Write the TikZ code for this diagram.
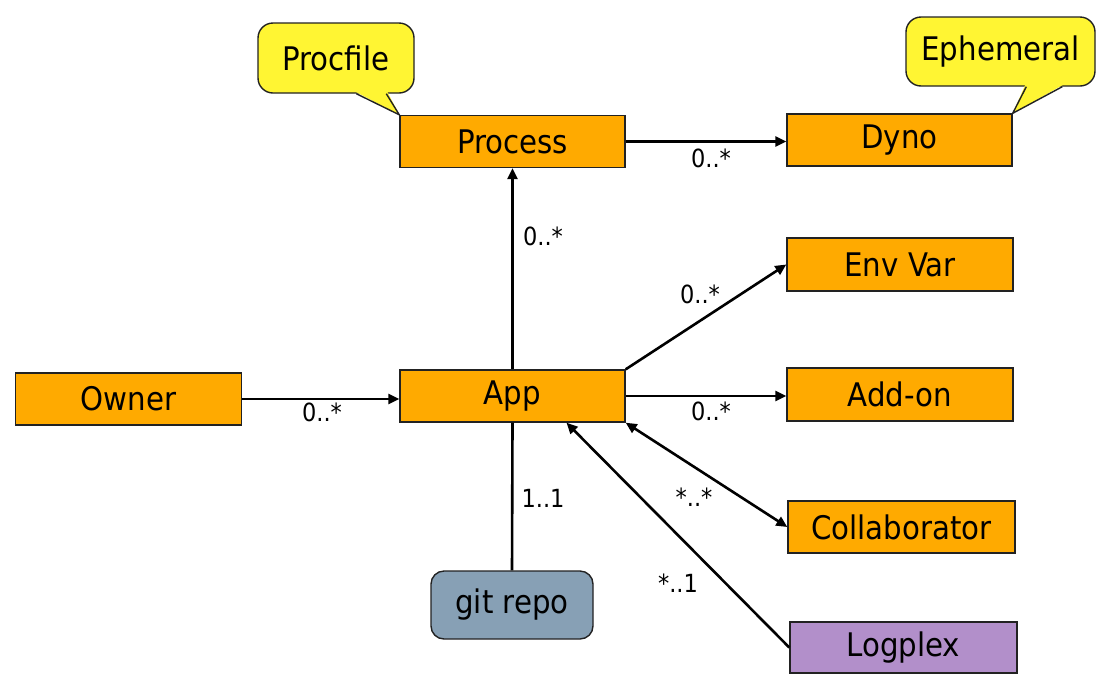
\documentclass[tikz,border=0pt]{standalone}
\usepackage{fontspec}
\setmainfont{DejaVu Sans Condensed}
\usetikzlibrary{arrows.meta,calc}
\definecolor{boxorange}{HTML}{FFAA00}
\definecolor{calloutyellow}{HTML}{FFF533}
\definecolor{gitblue}{HTML}{87A0B5}
\definecolor{logpurple}{HTML}{B28FCA}
\definecolor{edgegray}{HTML}{222222}
\tikzset{
  cls/.style={draw=edgegray, line width=1.4pt, fill=boxorange, minimum width=225pt, minimum height=52pt, inner sep=0pt, font=\fontsize{32.5}{36}\selectfont},
  callout/.style={draw=edgegray, line width=1.4pt, fill=calloutyellow, rounded corners=15pt, inner sep=0pt, font=\fontsize{32.5}{36}\selectfont},
  conn/.style={line width=2.6pt, draw=black},
  arr/.style={conn, -{Triangle[length=11pt,width=10pt]}},
  darr/.style={conn, {Triangle[length=11pt,width=10pt]}-{Triangle[length=11pt,width=10pt]}},
  mult/.style={font=\fontsize{25}{28}\selectfont, inner sep=0pt}
}
\begin{document}
\begin{tikzpicture}[x=1pt,y=-1pt]
\useasboundingbox (0,0) rectangle (1107,689);
% class boxes
\node[cls] (proc) at (512.5,141.5) {Process};
\node[cls] (dyno) at (899.5,140) {Dyno};
\node[cls, minimum width=226pt, minimum height=53pt] (env) at (900,264.5) {Env Var};
\node[cls, minimum width=226pt, minimum height=53pt] (addon) at (900,394.5) {Add-on};
\node[cls, minimum width=227pt] (collab) at (901.5,527) {Collaborator};
\node[cls] (app) at (512.5,396) {App};
\node[cls, minimum width=226pt] (owner) at (128.5,399) {Owner};
\node[cls, fill=gitblue, rounded corners=13pt, minimum width=162pt, minimum height=68pt] (git) at (512,605) {git repo};
\node[cls, fill=logpurple, minimum width=227pt, minimum height=51pt] (logplex) at (903.5,647.5) {Logplex};
% callouts
\node[callout, minimum width=156pt, minimum height=70pt] (pf) at (336,58) {Procfile};
\fill[calloutyellow] ($(pf.south west)+(98,-2)$) -- (proc.north west) -- ($(pf.south west)+(130,-2)$) -- cycle;
\draw[edgegray, line width=1.4pt] ($(pf.south west)+(99,0)$) -- (proc.north west) -- ($(pf.south west)+(129,0)$);
\node[callout, minimum width=189pt, minimum height=69pt] (eph) at (1000.5,51.5) {Ephemeral};
\fill[calloutyellow] ($(eph.south west)+(120,-2)$) -- (dyno.north east) -- ($(eph.south west)+(158,-2)$) -- cycle;
\draw[edgegray, line width=1.4pt] ($(eph.south west)+(121,0)$) -- (dyno.north east) -- ($(eph.south west)+(157,0)$);
% connectors
\coordinate (logend) at ($(app.south)+(54,0)$);
\draw[arr] (proc.east) -- (proc.east -| dyno.west);
\draw[arr] (app.north) -- (proc.south);
\draw[arr] (app.north east) -- (env.west);
\draw[arr] (app.east) -- (app.east -| addon.west);
\draw[darr] (app.south east) -- (collab.west);
\draw[arr] (logplex.west) -- (logend);
\draw[conn] (git.north) -- (app.south);
\draw[arr] (owner.east) -- (owner.east -| app.west);
% multiplicities
\node[mult] (m1) at (711,158) {0..*};
\node[mult] (m2) at (543,236) {0..*};
\node[mult] (m3) at (700,294) {0..*};
\node[mult] (m4) at (711,411) {0..*};
\node[mult] (m5) at (694,497) {*..*};
\node[mult] (m6) at (678,583) {*..1};
\node[mult] (m7) at (543,498) {1..1};
\node[mult] (m8) at (322,412) {0..*};
\end{tikzpicture}
\end{document}
